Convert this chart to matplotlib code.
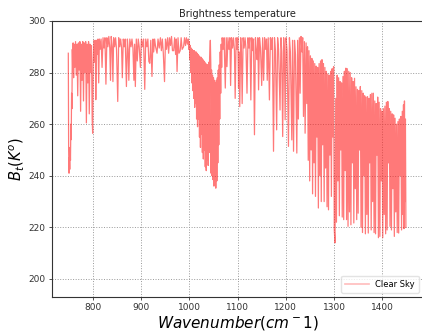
import matplotlib
matplotlib.use("Agg")
import matplotlib.pyplot as plt
from matplotlib.lines import Line2D

# Spectral samples (wavenumber cm^-1, brightness temperature K)
window_a = [(749, 287.5), (749.7, 250), (750.5, 241), (751.3, 247), (752, 242.5), (752.8, 251),
            (753.5, 246), (754.3, 260), (755, 254), (755.8, 272), (756.5, 266), (757.3, 289),
            (758.2, 280), (759, 291.5), (760, 278), (761, 291), (762.5, 282),
            (764, 292), (765.5, 279), (767, 291), (768.5, 271), (770, 291.5), (771.5, 281),
            (773, 292), (774.5, 265), (776, 291), (777.5, 277), (779, 292), (780.5, 269),
            (782, 291.5), (783.5, 280), (785, 292), (786.5, 260.5), (788, 291), (789.5, 276),
            (791, 292), (792.5, 264), (794, 291), (795.5, 280), (797, 290.5), (798.5, 262),
            (799.5, 256.5)]

window_b = [(800.5, 283), (802, 292.5), (803.5, 284), (805, 292.5), (806, 269.5), (807.5, 292.5),
            (809, 287), (810.5, 293), (812, 276), (813.5, 293), (815, 289), (817, 293),
            (819, 282), (821, 293.5), (823, 289.5), (825, 293.5), (827, 275.5), (829, 293.5),
            (831, 290), (833, 294), (835, 289.5), (836.5, 277), (838, 294), (840, 290),
            (841.5, 276.5), (843, 293.5), (845, 290), (847, 293.5), (849, 289), (851.5, 268.8),
            (853.5, 293.5), (855.5, 290), (857.5, 293), (859.5, 289.5), (861, 278), (863, 293),
            (865, 290), (867, 293), (869.5, 274.6), (871.5, 293), (873, 289), (874.5, 277),
            (876.5, 293), (879, 290), (881, 293), (883, 289.5), (885, 277), (886.5, 291),
            (888, 274.6), (890, 293), (892, 284.5), (894, 293), (896, 290), (898.5, 282),
            (900.5, 293), (903, 290), (905, 293), (907.5, 273.5), (909.5, 293), (912, 290),
            (914, 293), (916, 284.3), (918, 283.6), (920, 292.5), (922.5, 278.5), (924.5, 293),
            (926, 288), (928, 293), (930, 290), (933, 287.5), (935, 293), (937.5, 289.5),
            (940, 293.5), (942, 288.5), (944, 293), (946, 287.5), (948.5, 276.5), (950.5, 293),
            (952.5, 289), (955, 293.5), (957, 287.5), (959, 293.5), (961, 290.5), (963, 294),
            (965, 288.5), (967.5, 288.5), (969.5, 293.5), (971.5, 287), (973, 293), (974.5, 280.4),
            (976.5, 293.5), (978.5, 287.5), (981, 288.5), (983, 293.5), (985, 289), (988, 290),
            (990, 293.5), (992, 290.5), (994, 293.5), (996, 291), (998, 293)]

ozone_band = [(999, 289), (1000, 292), (1001, 285), (1002, 290.5), (1003, 280), (1004, 289.5),
              (1005, 276), (1006, 289), (1007, 273), (1008, 288.5), (1009, 270), (1010, 288.5),
              (1011, 266.5), (1012, 288), (1013, 268), (1014, 288), (1015, 262), (1016, 287.5),
              (1017, 259), (1018, 287), (1019, 262), (1020, 286.5), (1021, 255), (1022, 286),
              (1023, 251), (1024, 286), (1025, 256), (1026, 285.5), (1027, 249), (1028, 285),
              (1029, 246.5), (1030, 284.5), (1031, 250), (1032, 284), (1033, 243.5), (1034, 283.5),
              (1035, 242), (1036, 283), (1037, 246), (1038, 283), (1039, 244), (1040, 284),
              (1041, 249), (1042, 286), (1043.5, 292.5), (1044.5, 283), (1045, 241), (1046, 281),
              (1047, 240), (1048, 279), (1049, 238.5), (1050, 278), (1051, 236), (1052, 277),
              (1053, 238), (1054, 276), (1054.8, 235.2), (1056, 277), (1057, 238), (1058, 278),
              (1059, 245), (1060, 281), (1061, 252), (1062, 283), (1063, 262), (1064, 288),
              (1065, 272), (1066, 291), (1067, 282), (1068, 293.5)]

window_d = [(1070, 289), (1072, 293.5), (1074.5, 274), (1076.5, 293.5), (1078, 282.3), (1080, 293.5),
            (1082, 289), (1084, 293.5), (1085.5, 275), (1087.5, 293.5), (1089.5, 289.5), (1091.5, 293.5),
            (1093.5, 288.5), (1095, 270), (1097, 293.5), (1099, 289), (1100.5, 293.5), (1102, 274),
            (1103, 288), (1104.5, 266.8), (1106.5, 293.5), (1108, 288), (1109.5, 268), (1111.5, 293.5),
            (1113.5, 289.5), (1115.5, 293.5), (1117.5, 289), (1119.5, 272), (1121.5, 293.5), (1123.5, 289.5),
            (1125.5, 293.5), (1127.5, 269.4), (1129.5, 293.5), (1131.5, 288.5), (1133, 293), (1135, 255.9),
            (1137, 293.5), (1139, 288), (1140.5, 285), (1142, 293.5), (1143.5, 273.3), (1145.5, 293.5),
            (1147.5, 289.5), (1150, 275), (1152, 293.5), (1154, 277), (1156, 293.5), (1158, 289),
            (1160, 293), (1161.5, 277), (1163.5, 293.5), (1166, 269.4), (1168, 293.5), (1170, 289),
            (1172, 293.5), (1174.5, 249.5), (1176.5, 293.5), (1178.5, 288.5), (1181, 257.8), (1183, 293.5),
            (1185, 289), (1188, 265.5), (1190, 293.5), (1191.5, 288), (1193.5, 255.2), (1195.5, 293.5),
            (1197, 289), (1198.6, 261.7), (1200.5, 293.5), (1202.5, 288.5), (1205.5, 251.4), (1207.5, 293.5),
            (1209.5, 288), (1212.4, 253.9), (1214, 292.5), (1216, 249.5), (1218, 292.5), (1220, 287),
            (1222.8, 248.8), (1224.5, 292.5), (1226, 262), (1228, 293.5), (1229.7, 272), (1231.5, 294),
            (1233.5, 288), (1235, 293.5), (1236.6, 263), (1238.5, 292), (1240, 256.5), (1242, 291.5),
            (1243.5, 268)]

water_band = [(1245, 290), (1246.5, 246), (1248, 288.5), (1249.5, 238), (1251, 286.5), (1252.5, 250),
              (1254, 285.5), (1255.5, 233), (1257, 284.5), (1258.5, 245), (1260, 283.5), (1261.5, 232),
              (1263, 282.5), (1264.5, 255), (1266, 282), (1267.5, 227.5), (1269, 283.5), (1270.5, 240),
              (1272, 284.5), (1273.5, 230), (1275, 285), (1276.5, 252), (1278, 283.5), (1279.5, 230),
              (1281, 282), (1282.5, 243), (1284, 280.5), (1285.5, 228), (1287, 279.5), (1288.5, 226.8),
              (1290, 279), (1291.5, 248), (1293, 280.5), (1294.5, 232), (1296, 281.5), (1297.5, 255),
              (1299, 282.3), (1300.5, 219), (1302, 214), (1303.5, 270), (1305, 222), (1306.5, 279),
              (1308, 238), (1309.5, 278), (1311, 224.5), (1312.5, 276.5), (1314, 250), (1315.5, 276),
              (1317, 224), (1318.5, 278.5), (1320, 223), (1321.5, 280.5), (1323, 242), (1324.5, 281.7),
              (1326, 223), (1327.5, 281.5), (1329, 220.4), (1330.5, 280.5), (1332, 226), (1333.5, 280),
              (1335, 221), (1336.5, 278), (1338, 245), (1339.5, 276.5), (1341, 221.7), (1342.5, 277.8),
              (1344, 235), (1345.5, 274.5), (1347, 223), (1348.5, 273.5), (1350, 225.5), (1351.5, 273),
              (1353, 250), (1354.5, 274.6), (1356, 220), (1357.5, 273), (1359, 218), (1360.5, 272),
              (1362, 240), (1363.5, 271), (1365, 217.5), (1366.5, 270.5), (1368, 225), (1369.5, 270.7),
              (1371, 217.8), (1372.5, 270), (1374, 245), (1375.5, 271.5), (1377, 219), (1378.5, 272),
              (1380, 230), (1381.5, 272), (1383, 218), (1384.5, 269), (1386, 217.5), (1387.5, 268),
              (1389, 248), (1390.5, 270.5), (1392, 216), (1393.5, 268.5), (1395, 216.5), (1396.5, 266),
              (1398, 238), (1399.5, 265), (1401, 216), (1402.5, 266), (1404, 225), (1405.5, 267),
              (1407, 217.5), (1408.5, 268.5), (1410, 219), (1411.5, 268.8), (1413, 245), (1414.5, 266),
              (1416, 220.4), (1417.5, 265), (1419, 219), (1420.5, 264), (1422, 235), (1423.5, 263.6),
              (1425, 216.5), (1426.5, 262.3), (1428, 226), (1429.5, 260), (1431, 218), (1432.5, 261),
              (1434, 217.8), (1435.5, 262), (1437, 240), (1438.5, 263), (1440, 219), (1441.5, 265),
              (1443, 225), (1444, 267.5), (1445, 219.5), (1446, 269), (1447, 230), (1448, 262),
              (1449, 220)]

series_label = "Clear Sky"
title_text = "Brightness temperature"
x_ticks = [800, 900, 1000, 1100, 1200, 1300, 1400]
y_ticks = [200, 220, 240, 260, 280, 300]

spectrum = window_a + window_b + ozone_band + window_d + water_band
wavenumber = [p[0] for p in spectrum]
bt = [p[1] for p in spectrum]

fig = plt.figure(figsize=(4.22, 3.33), dpi=100)
ax = fig.add_axes([0.123, 0.108, 0.88, 0.829])

ax.plot(wavenumber, bt, color="#ff2020", alpha=0.6, linewidth=0.9, label=series_label)

ax.set_xlim(715, 1485)
ax.set_ylim(193, 300)
ax.set_xticks(x_ticks)
ax.set_yticks(y_ticks)
ax.tick_params(labelsize=6.5, length=2.5, width=0.6, colors="#333333", pad=2)
ax.grid(True, color="#999999", linestyle=":", linewidth=0.7)
for s in ax.spines.values():
    s.set_linewidth(0.8)
    s.set_color("#333333")

ax.set_title(title_text, fontsize=7, pad=3, color="#222222")
ax.set_xlabel(r"$Wavenumber(cm^-1)$", fontsize=11, labelpad=1)
ax.set_ylabel(r"$B_t(K^o)$", fontsize=10.5, labelpad=2)

handle = Line2D([], [], color="#ff2020", alpha=0.3, linewidth=1.2)
ax.legend([handle], [series_label], loc="lower right", fontsize=6, frameon=True,
          handlelength=2.8, borderpad=0.5, framealpha=0.8, edgecolor="#dddddd")

fig.savefig("out.png", dpi=100)
